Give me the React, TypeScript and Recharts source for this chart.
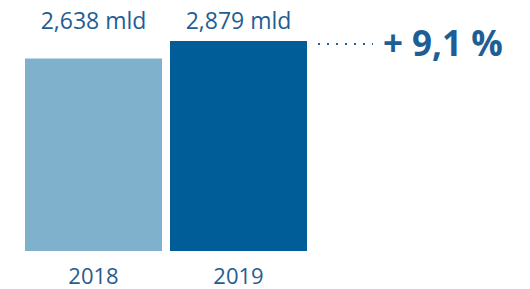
import { Bar, BarChart, Cell, LabelList, XAxis, YAxis } from 'recharts';

const years = ['2018', '2019'];
const values = [2.638, 2.879];
const barColors = ['#7fb1cd', '#005d97'];

const data = years.map((year, i) => ({ year, value: values[i] }));

const fmt = (v: number) => `${v.toFixed(3).replace('.', ',')} mld`;
const growth = ((values[1] / values[0] - 1) * 100).toFixed(1).replace('.', ',');

const textColor = '#1f5e94';

function TopLabel(props: any) {
  const { x, y, width, value, index } = props;
  const cx = x + width / 2;
  return (
    <g>
      <text x={cx} y={29} textAnchor="middle" fill={textColor} fontSize={23} fontFamily="Open Sans">
        {fmt(Number(value))}
      </text>
      {index === data.length - 1 && (
        <g>
          <line x1={x + width + 11} x2={x + width + 66} y1={y + 3} y2={y + 3} stroke={textColor} strokeWidth={2} strokeDasharray="2 7" />
          <text x={x + width + 76} y={y + 15} fill={textColor} fontSize={35} fontWeight={700} fontFamily="Open Sans">
            {`+ ${growth} %`}
          </text>
        </g>
      )}
    </g>
  );
}

function YearTick(props: any) {
  const { x, y, payload } = props;
  return (
    <text x={x} y={y} dy={31} textAnchor="middle" fill="#275c90" fontSize={22} fontFamily="Open Sans">
      {payload.value}
    </text>
  );
}

export default function App() {
  return (
    <div style={{ position: 'absolute', left: 0, top: 0, background: '#fff' }}>
      <BarChart width={530} height={289} data={data} margin={{ top: 41, right: 219, bottom: 0, left: 21 }} barCategoryGap={4}>
        <XAxis dataKey="year" axisLine={false} tickLine={false} tickSize={0} height={38} tick={<YearTick />} interval={0} />
        <YAxis hide domain={[0, values[1]]} />
        <Bar dataKey="value" isAnimationActive={false}>
          {data.map((_, i) => <Cell key={i} fill={barColors[i]} />)}
          <LabelList dataKey="value" content={<TopLabel />} />
        </Bar>
      </BarChart>
    </div>
  );
}
